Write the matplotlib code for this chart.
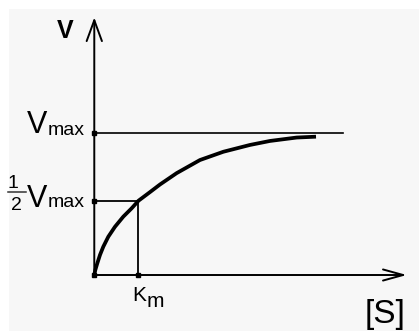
import matplotlib
matplotlib.use("Agg")
import matplotlib.pyplot as plt
from matplotlib.patches import Rectangle

plt.rcParams['font.family'] = ['Liberation Sans', 'DejaVu Sans']

# Michaelis-Menten curve (Km = 1, Vmax = 1)
s_curve = [0.0, 0.023, 0.068, 0.129, 0.204, 0.317, 0.468, 0.656, 0.846,
           1.0, 1.262, 1.486, 1.864, 2.391, 2.919, 3.523, 3.975, 4.579, 5.016]
v_curve = [0.0, 0.035, 0.082, 0.141, 0.199, 0.269, 0.339, 0.410, 0.469,
           0.522, 0.583, 0.636, 0.716, 0.808, 0.866, 0.914, 0.942, 0.966, 0.972]
km = 1.0
vmax = 1.0
half_v = 0.522
vmax_line_end = 5.62
s_axis_end = 7.07
v_axis_end = 1.81

fig = plt.figure(figsize=(4.19, 3.31), dpi=100, facecolor='white')
# grey panel with a thin white margin on the left and top
fig.patches.append(Rectangle((9 / 419, 0), 410 / 419, 322 / 331,
                             transform=fig.transFigure, facecolor='#f7f7f7',
                             edgecolor='none', zorder=-10))
ax = fig.add_axes([0, 0, 1, 1])
ax.set_facecolor('none')
ax.set_xlim(-2.133, 7.346)
ax.set_ylim(-0.3935, 1.9325)
ax.axis('off')

# axes with arrows
ax.annotate('', xy=(s_axis_end, 0), xytext=(0, 0),
            arrowprops=dict(arrowstyle='->,head_length=1.45,head_width=0.4',
                            lw=1.4, color='black', shrinkA=0, shrinkB=0))
ax.annotate('', xy=(0, v_axis_end), xytext=(0, 0),
            arrowprops=dict(arrowstyle='->,head_length=1.5,head_width=0.55',
                            lw=1.4, color='black', shrinkA=0, shrinkB=0))

# Vmax asymptote and the half-Vmax / Km guide lines
ax.plot([0, vmax_line_end], [vmax, vmax], color='black', lw=1.2)
ax.plot([0, km], [half_v, half_v], color='black', lw=1.3)
ax.plot([km, km], [0, half_v], color='black', lw=1.3)

ax.plot(s_curve, v_curve, color='black', lw=2.7, solid_capstyle='butt',
        solid_joinstyle='round')

ax.plot([0, 0, km, 0], [vmax, half_v, 0, 0], 's', color='black', ms=3)

# labels
ax.text(-0.652, 1.6655, 'V', fontsize=18, fontweight='bold', ha='center', va='baseline')
ax.text(-1.296, 0.998, 'V', fontsize=22, ha='center', va='baseline')
ax.text(-1.06, 0.985, 'max', fontsize=14, ha='left', va='baseline')

# the 1/2 in front of the second Vmax
ax.text(-1.83, 0.611, '1', fontsize=14, ha='center', va='baseline')
ax.plot([-1.952, -1.545], [0.580, 0.580], color='#333333', lw=1.1)
ax.text(-1.76, 0.457, '2', fontsize=14, ha='center', va='baseline')
ax.text(-1.285, 0.478, 'V', fontsize=22, ha='center', va='baseline')
ax.text(-1.06, 0.478, 'max', fontsize=14, ha='left', va='baseline')

ax.text(1.011, -0.183, 'K', fontsize=15, ha='center', va='baseline')
ax.text(1.19, -0.225, 'm', fontsize=15, ha='left', va='baseline')
ax.text(6.577, -0.337, '[S]', fontsize=24, ha='center', va='baseline')

fig.savefig('out.png', dpi=100, facecolor=fig.get_facecolor())
